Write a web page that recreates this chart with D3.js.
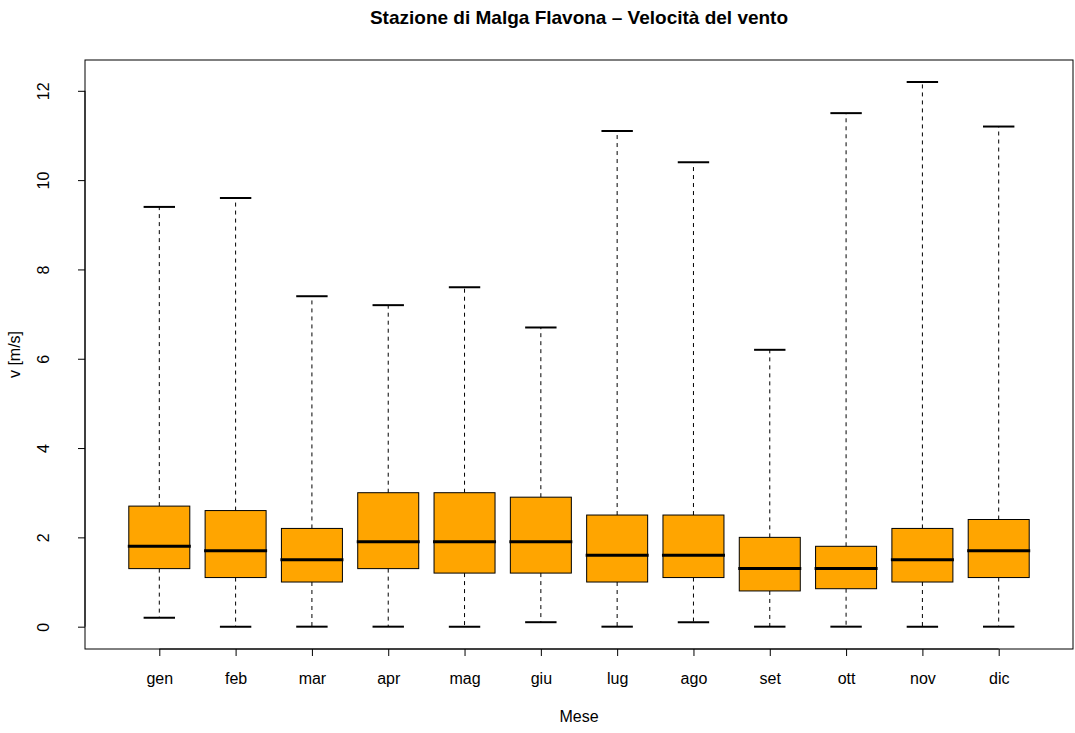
<!DOCTYPE html>
<html>
<head>
<meta charset="utf-8">
<script src="https://cdn.jsdelivr.net/npm/d3@7"></script>
<style>
  body { margin: 0; background: #fff; }
  svg { display: block; }
  text { font-family: "Liberation Sans", Arial, Helvetica, sans-serif; fill: #000; }
</style>
</head>
<body>
<svg id="chart" width="1075" height="733"></svg>
<script>
const months = ["gen","feb","mar","apr","mag","giu","lug","ago","set","ott","nov","dic"];
const whiskerLow  = [0.2, 0, 0, 0, 0, 0.1, 0, 0.1, 0, 0, 0, 0];
const q1          = [1.3, 1.1, 1.0, 1.3, 1.2, 1.2, 1.0, 1.1, 0.8, 0.85, 1.0, 1.1];
const medians     = [1.8, 1.7, 1.5, 1.9, 1.9, 1.9, 1.6, 1.6, 1.3, 1.3, 1.5, 1.7];
const q3          = [2.7, 2.6, 2.2, 3.0, 3.0, 2.9, 2.5, 2.5, 2.0, 1.8, 2.2, 2.4];
const whiskerHigh = [9.4, 9.6, 7.4, 7.2, 7.6, 6.7, 11.1, 10.4, 6.2, 11.5, 12.2, 11.2];
const yTicks = [0, 2, 4, 6, 8, 10, 12];
const titleText = "Stazione di Malga Flavona \u2013 Velocit\u00e0 del vento";
const xTitle = "Mese";
const yTitle = "v [m/s]";

const svg = d3.select("#chart");
const frame = {left: 85, right: 1073, top: 60, bottom: 649};

const x = d3.scaleLinear().domain([1, 12]).range([159.3, 998.7]);
const y = d3.scaleLinear().domain([-0.5, 12.69]).range([frame.bottom, frame.top]);
const boxHalf = 30.5, capHalf = 15.7;

const data = months.map((m, i) => ({
  m, i: i + 1, lo: whiskerLow[i], q1: q1[i], med: medians[i], q3: q3[i], hi: whiskerHigh[i]
}));

const g = svg.append("g");
const box = g.selectAll("g.box").data(data).join("g").attr("class", "box");

box.append("line")
  .attr("x1", d => x(d.i)).attr("x2", d => x(d.i))
  .attr("y1", d => y(d.q3)).attr("y2", d => y(d.hi))
  .attr("stroke", "#000").attr("stroke-width", 1).attr("stroke-dasharray", "4,4");
box.append("line")
  .attr("x1", d => x(d.i)).attr("x2", d => x(d.i))
  .attr("y1", d => y(d.q1)).attr("y2", d => y(d.lo))
  .attr("stroke", "#000").attr("stroke-width", 1).attr("stroke-dasharray", "4,4");
box.append("line")
  .attr("x1", d => x(d.i) - capHalf).attr("x2", d => x(d.i) + capHalf)
  .attr("y1", d => y(d.hi)).attr("y2", d => y(d.hi))
  .attr("stroke", "#000").attr("stroke-width", 2);
box.append("line")
  .attr("x1", d => x(d.i) - capHalf).attr("x2", d => x(d.i) + capHalf)
  .attr("y1", d => y(d.lo)).attr("y2", d => y(d.lo))
  .attr("stroke", "#000").attr("stroke-width", 2);
box.append("rect")
  .attr("x", d => x(d.i) - boxHalf).attr("width", boxHalf * 2)
  .attr("y", d => y(d.q3)).attr("height", d => y(d.q1) - y(d.q3))
  .attr("fill", "#FFA500").attr("stroke", "#000").attr("stroke-width", 1);
box.append("line")
  .attr("x1", d => x(d.i) - boxHalf - 1).attr("x2", d => x(d.i) + boxHalf + 1)
  .attr("y1", d => y(d.med)).attr("y2", d => y(d.med))
  .attr("stroke", "#000").attr("stroke-width", 3);

svg.append("rect")
  .attr("x", frame.left).attr("y", frame.top)
  .attr("width", frame.right - frame.left).attr("height", frame.bottom - frame.top)
  .attr("fill", "none").attr("stroke", "#000").attr("stroke-width", 1);

const yAxis = svg.append("g").attr("transform", `translate(${frame.left},0)`)
  .call(d3.axisLeft(y).tickValues(yTicks).tickSize(7).tickPadding(0).tickFormat(d3.format("d")));
yAxis.select(".domain").attr("d", `M-0,${y(0)}V${y(12)}`).attr("stroke", "#000");
yAxis.selectAll(".tick line").attr("stroke", "#000");
yAxis.selectAll(".tick text")
  .attr("x", 0).attr("y", 0).attr("dy", null)
  .attr("transform", "translate(-40,0) rotate(-90)")
  .attr("text-anchor", "middle").attr("dominant-baseline", "middle")
  .style("font-size", "16px").style("font-family", "Liberation Sans, Arial, sans-serif");

const xAxis = svg.append("g").attr("transform", `translate(0,${frame.bottom})`)
  .call(d3.axisBottom(x).tickValues(d3.range(1, 13)).tickSize(7).tickPadding(0)
    .tickFormat(i => months[i - 1]));
xAxis.select(".domain").attr("d", `M${x(1)},0H${x(12)}`).attr("stroke", "#000");
xAxis.selectAll(".tick line").attr("stroke", "#000");
xAxis.selectAll(".tick text")
  .attr("y", 31).attr("dy", null).attr("dominant-baseline", "middle")
  .style("font-size", "16px").style("font-family", "Liberation Sans, Arial, sans-serif");

const cx = (frame.left + frame.right) / 2;
svg.append("text").attr("x", cx).attr("y", 19)
  .attr("text-anchor", "middle").attr("dominant-baseline", "middle")
  .style("font-size", "19px").style("font-weight", "bold").text(titleText);
svg.append("text").attr("x", cx).attr("y", 718)
  .attr("text-anchor", "middle").attr("dominant-baseline", "middle")
  .style("font-size", "16px").text(xTitle);
svg.append("text")
  .attr("transform", `translate(16,${(frame.top + frame.bottom) / 2}) rotate(-90)`)
  .attr("text-anchor", "middle").attr("dominant-baseline", "middle")
  .style("font-size", "16px").text(yTitle);
</script>
</body>
</html>
